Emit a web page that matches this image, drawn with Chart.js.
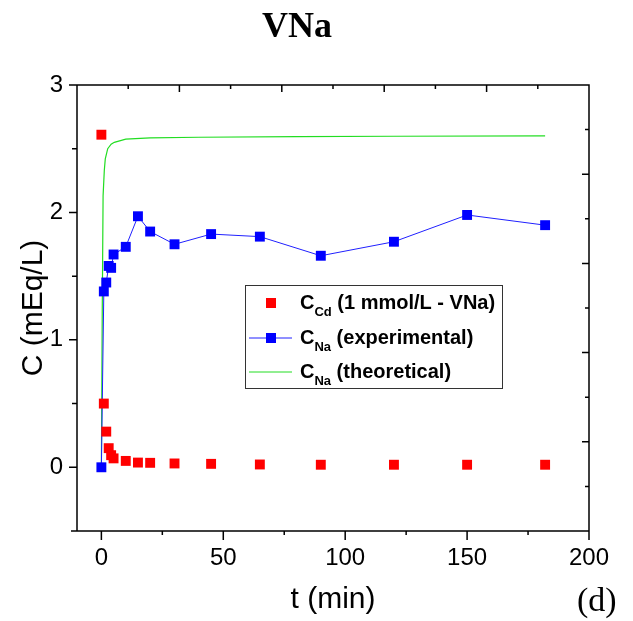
<!DOCTYPE html>
<html>
<head>
<meta charset="utf-8">
<script src="https://cdn.jsdelivr.net/npm/chart.js@4/dist/chart.umd.min.js"></script>
<style>
  html, body { margin: 0; padding: 0; background: #fff; }
  #wrap { width: 633px; height: 621px; }
</style>
</head>
<body>
<div id="wrap"><canvas id="chart" width="633" height="621"></canvas></div>
<script>
// sampling times (min) for the measured series
const sampleTimes = [0, 1, 2, 3, 4, 5, 10, 15, 20, 30, 45, 65, 90, 120, 150, 182];
// C_Cd (1 mmol/L - VNa)
const cdValues = [2.61, 0.50, 0.28, 0.15, 0.095, 0.07, 0.05, 0.037, 0.035, 0.03, 0.027, 0.022, 0.02, 0.02, 0.02, 0.02];
// C_Na experimental
const naExpValues = [0, 1.38, 1.45, 1.58, 1.565, 1.67, 1.73, 1.97, 1.85, 1.75, 1.83, 1.81, 1.66, 1.77, 1.98, 1.90];
// C_Na theoretical curve
const theoTimes = [0, 0.35, 0.7, 1.2, 1.6, 2.6, 4, 5.3, 10, 20, 40, 80, 120, 182];
const theoValues = [0, 1.2, 2.13, 2.33, 2.42, 2.5, 2.535, 2.55, 2.575, 2.585, 2.59, 2.595, 2.598, 2.6];

const xTicks = [0, 50, 100, 150, 200];
const yTicks = [0, 1, 2, 3];

const toPoints = (xs, ys) => xs.map((x, i) => ({ x, y: ys[i] }));

// frame + tick marks (bottom/left outward, top/right inward)
const framePlugin = {
    id: 'frame',
    afterDraw(chart) {
        const { ctx, chartArea: a, scales } = chart;
        const x = scales.x, y = scales.y, x2 = scales.x2, y2 = scales.y2;
        ctx.save();
        ctx.strokeStyle = '#000';
        ctx.lineWidth = 1.5;
        ctx.beginPath();
        ctx.moveTo(a.left - 6, a.bottom); ctx.lineTo(a.right, a.bottom);
        ctx.moveTo(a.left, a.bottom); ctx.lineTo(a.left, a.top);
        ctx.lineTo(a.right, a.top); ctx.lineTo(a.right, a.bottom + 6);
        // bottom ticks
        for (let v = 0; v <= 200; v += 25) {
            const px = x.getPixelForValue(v);
            ctx.moveTo(px, a.bottom); ctx.lineTo(px, a.bottom + (v % 50 === 0 ? 9 : 4));
        }
        // left ticks
        for (let v = -0.5; v <= 3; v += 0.5) {
            const py = y.getPixelForValue(v);
            ctx.moveTo(a.left, py); ctx.lineTo(a.left - (Number.isInteger(v) ? 8 : 5), py);
        }
        // top ticks
        for (let k = 0; k <= 10; k++) {
            const px = x2.getPixelForValue(k);
            ctx.moveTo(px, a.top); ctx.lineTo(px, a.top + (k % 2 === 0 ? 7 : 4));
        }
        // right ticks
        for (let k = 1; k < 10; k++) {
            const py = y2.getPixelForValue(k);
            ctx.moveTo(a.right, py); ctx.lineTo(a.right - (k % 2 === 0 ? 7 : 4), py);
        }
        ctx.stroke();

        // title and panel label
        ctx.fillStyle = '#000';
        ctx.textAlign = 'center';
        ctx.textBaseline = 'alphabetic';
        ctx.font = 'bold 36px "Liberation Serif", "Times New Roman", serif';
        ctx.fillText('VNa', 297, 37);
        ctx.textAlign = 'left';
        ctx.font = '34px "Liberation Serif", "Times New Roman", serif';
        ctx.fillText('(d)', 577, 611);
        ctx.restore();
    }
};

// legend with subscripts
const legendPlugin = {
    id: 'subLegend',
    afterDraw(chart) {
        const { ctx } = chart;
        const ds = chart.data.datasets;
        const box = { l: 245, t: 285, r: 502, b: 388 };
        const rows = [
            { sub: 'Cd', rest: ' (1 mmol/L - VNa)', d: ds[0], line: false, mark: true },
            { sub: 'Na', rest: ' (experimental)', d: ds[1], line: true, mark: true },
            { sub: 'Na', rest: ' (theoretical)', d: ds[2], line: true, mark: false }
        ];
        const rowY = [303, 338, 372];
        ctx.save();
        ctx.strokeStyle = '#333';
        ctx.lineWidth = 1;
        ctx.strokeRect(box.l + 0.5, box.t + 0.5, box.r - box.l, box.b - box.t);
        rows.forEach((r, i) => {
            const cy = rowY[i];
            if (r.line) {
                ctx.strokeStyle = r.d.borderColor;
                ctx.lineWidth = 1;
                ctx.beginPath();
                ctx.moveTo(249, cy); ctx.lineTo(292, cy);
                ctx.stroke();
            }
            if (r.mark) {
                ctx.fillStyle = r.d.pointBackgroundColor;
                ctx.fillRect(266, cy - 5, 10, 10);
            }
            ctx.fillStyle = '#000';
            ctx.textBaseline = 'middle';
            ctx.textAlign = 'left';
            ctx.font = 'bold 20px "Liberation Sans", Arial, sans-serif';
            ctx.fillText('C', 300, cy);
            const cw = ctx.measureText('C').width;
            ctx.font = 'bold 13px "Liberation Sans", Arial, sans-serif';
            ctx.fillText(r.sub, 300 + cw, cy + 9);
            const sw = ctx.measureText(r.sub).width;
            ctx.font = 'bold 20px "Liberation Sans", Arial, sans-serif';
            ctx.fillText(r.rest, 300 + cw + sw, cy);
        });
        ctx.restore();
    }
};

new Chart(document.getElementById('chart').getContext('2d'), {
    type: 'scatter',
    data: {
        datasets: [
            {
                label: 'C_Cd (1 mmol/L - VNa)',
                data: toPoints(sampleTimes, cdValues),
                showLine: false,
                pointStyle: 'rect',
                pointRadius: 7,
                pointBackgroundColor: '#ff0000',
                pointBorderWidth: 0,
                borderColor: '#ff0000'
            },
            {
                label: 'C_Na (experimental)',
                data: toPoints(sampleTimes, naExpValues),
                showLine: true,
                borderColor: '#2020ff',
                borderWidth: 1,
                pointStyle: 'rect',
                pointRadius: 7,
                pointBackgroundColor: '#0000ff',
                pointBorderWidth: 0
            },
            {
                label: 'C_Na (theoretical)',
                data: toPoints(theoTimes, theoValues),
                showLine: true,
                borderColor: '#22dd22',
                borderWidth: 1.2,
                pointRadius: 0
            }
        ]
    },
    options: {
        responsive: false,
        animation: false,
        layout: { padding: { top: 85, right: 44, left: 0, bottom: 0 } },
        plugins: { legend: { display: false }, tooltip: { enabled: false } },
        scales: {
            x: {
                type: 'linear',
                position: 'bottom',
                min: -10,
                max: 200,
                afterBuildTicks: s => { s.ticks = xTicks.map(v => ({ value: v })); },
                afterFit: s => { s.height = 90; },
                grid: { display: false, drawTicks: false },
                border: { display: false },
                ticks: {
                    padding: 13,
                    color: '#000',
                    font: { family: '"Liberation Sans", Arial, sans-serif', size: 24 }
                },
                title: {
                    display: true,
                    text: 't (min)',
                    color: '#000',
                    font: { family: '"Liberation Sans", Arial, sans-serif', size: 30 },
                    padding: { top: 0, bottom: 3 }
                }
            },
            y: {
                type: 'linear',
                position: 'left',
                min: -0.5,
                max: 3,
                afterBuildTicks: s => { s.ticks = yTicks.map(v => ({ value: v })); },
                afterFit: s => { s.width = 77; },
                grid: { display: false, drawTicks: false },
                border: { display: false },
                ticks: {
                    padding: 14,
                    color: '#000',
                    font: { family: '"Liberation Sans", Arial, sans-serif', size: 24 }
                },
                title: {
                    display: true,
                    text: 'C (mEq/L)',
                    color: '#000',
                    font: { family: '"Liberation Sans", Arial, sans-serif', size: 30 },
                    padding: { top: 16, bottom: 0 }
                }
            },
            x2: {
                type: 'linear',
                position: 'top',
                min: 0,
                max: 10,
                display: false
            },
            y2: {
                type: 'linear',
                position: 'right',
                min: 0,
                max: 10,
                display: false
            }
        }
    },
    plugins: [framePlugin, legendPlugin]
});
</script>
</body>
</html>
